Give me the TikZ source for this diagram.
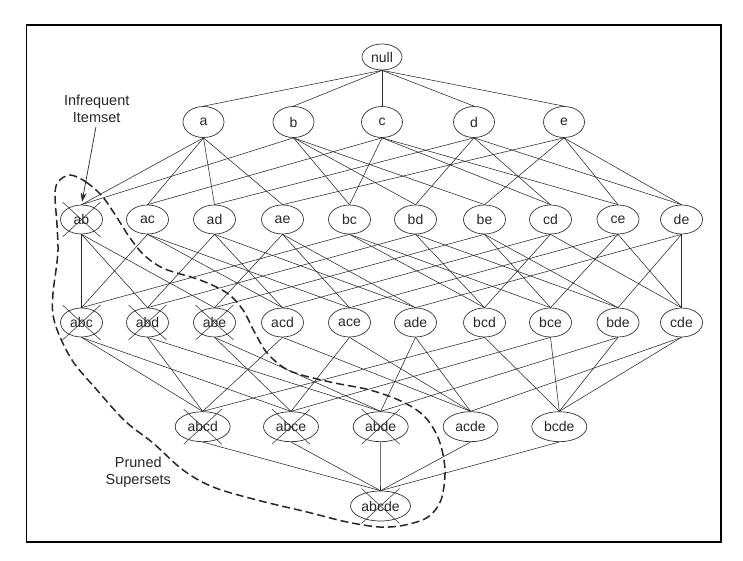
\documentclass[tikz,border=0pt]{standalone}
\usepackage{fontspec}
\setmainfont{Liberation Sans}
\usetikzlibrary{shapes.geometric,arrows.meta}
\begin{document}
\begin{tikzpicture}[x=1pt,y=-1pt,
  set/.style={ellipse,draw=black!80,line width=0.7pt,inner sep=0pt,text=black!85,font=\fontsize{14}{16}\selectfont},
  s0/.style={set,minimum width=40pt,minimum height=26pt},
  s1/.style={set,minimum width=41pt,minimum height=31pt},
  s2/.style={set,minimum width=42pt,minimum height=29pt},
  s4/.style={set,minimum width=55pt,minimum height=30pt},
  s5/.style={set,minimum width=60pt,minimum height=30pt},
  edge/.style={draw=black!85,line width=0.55pt},
  crossline/.style={draw=black!80,line width=0.55pt},
  note/.style={align=center,inner sep=0pt,anchor=north,text=black!85,font=\fontsize{14.5}{17}\selectfont},
  prune/.style={draw=black!85,line width=1.5pt,dash pattern=on 8pt off 4pt},
  pointer/.style={draw=black!85,line width=0.7pt,-{Stealth[length=9pt,width=6pt]}},
  frame/.style={draw=black,line width=1.6pt}
]
\useasboundingbox (0,0) rectangle (743,561);
\draw[frame] (26.3,25) rectangle (720.7,541.7);

% level 0
\node[s0] (n0) at (382,57) {null};
% level 1
\node[s1] (a) at (203.5,122) {a};
\node[s1] (b) at (293.5,122) {b};
\node[s1] (c) at (382,122) {c};
\node[s1] (d) at (474,122) {d};
\node[s1] (e) at (564,122) {e};
% level 2
\node[s2] (ab) at (81.5,219.5) {ab};
\node[s2] (ac) at (147.5,219.5) {ac};
\node[s2] (ad) at (214.5,219.5) {ad};
\node[s2] (ae) at (282.5,219.5) {ae};
\node[s2] (bc) at (349.5,219.5) {bc};
\node[s2] (bd) at (415.5,219.5) {bd};
\node[s2] (be) at (484.5,219.5) {be};
\node[s2] (cd) at (550.5,219.5) {cd};
\node[s2] (ce) at (618,219.5) {ce};
\node[s2] (de) at (681.5,219.5) {de};
% level 3
\node[s2] (abc) at (81.5,322.5) {abc};
\node[s2] (abd) at (147.5,322.5) {abd};
\node[s2] (abe) at (214.5,322.5) {abe};
\node[s2] (acd) at (282.5,322.5) {acd};
\node[s2] (ace) at (349.5,322.5) {ace};
\node[s2] (ade) at (415.5,322.5) {ade};
\node[s2] (bcd) at (484.5,322.5) {bcd};
\node[s2] (bce) at (550.5,322.5) {bce};
\node[s2] (bde) at (618,322.5) {bde};
\node[s2] (cde) at (681.5,322.5) {cde};
% level 4
\node[s4] (abcd) at (202.7,426.7) {abcd};
\node[s4] (abce) at (291,426.7) {abce};
\node[s4] (abde) at (380.7,426.7) {abde};
\node[s4] (acde) at (470.6,426.7) {acde};
\node[s4] (bcde) at (559.3,426.7) {bcde};
% level 5
\node[s5] (abcde) at (380.5,506) {abcde};

% lattice edges
\foreach \u/\v in {n0/a,n0/b,n0/c,n0/d,n0/e,
  a/ab,b/ab,a/ac,c/ac,a/ad,d/ad,a/ae,e/ae,b/bc,c/bc,b/bd,d/bd,b/be,e/be,c/cd,d/cd,c/ce,e/ce,d/de,e/de,
  ab/abc,ac/abc,bc/abc,ab/abd,ad/abd,bd/abd,ab/abe,ae/abe,be/abe,ac/acd,ad/acd,cd/acd,
  ac/ace,ae/ace,ce/ace,ad/ade,ae/ade,de/ade,bc/bcd,bd/bcd,cd/bcd,bc/bce,be/bce,ce/bce,
  bd/bde,be/bde,de/bde,cd/cde,ce/cde,de/cde,
  abc/abcd,abd/abcd,acd/abcd,bcd/abcd,abc/abce,abe/abce,ace/abce,bce/abce,
  abd/abde,abe/abde,ade/abde,bde/abde,acd/acde,ace/acde,ade/acde,cde/acde,
  bcd/bcde,bce/bcde,bde/bcde,cde/bcde,
  abcd/abcde,abce/abcde,abde/abcde,acde/abcde,bcde/abcde}
  \draw[edge] (\u.south) -- (\v.north);

% crosses on pruned itemsets
\foreach \n in {ab,abc,abd,abe,abcd,abce,abde,abcde} {
  \draw[crossline] ([shift={(-19,-17.5)}]\n.center) -- ([shift={(19,17.5)}]\n.center);
  \draw[crossline] ([shift={(19,-17.5)}]\n.center) -- ([shift={(-19,17.5)}]\n.center);
}

% annotations
\node[note] (infreq) at (96.7,95) {Infrequent\\Itemset};
\draw[pointer, shorten <=4pt, shorten >=3pt] (infreq.south) -- (ab.north);
\node[note] (pruned) at (138.3,457) {Pruned\\Supersets};

% pruned region boundary
\draw[prune] plot[smooth cycle, tension=0.55] coordinates {
  (70,175) (86,182) (102,196) (116,216) (130,238) (145,256) (165,269) (200,280)
  (227,293) (243,310) (255,333) (268,354) (290,371) (330,382) (370,390) (403,402)
  (425,417) (439,440) (445,470) (441,500) (428,517) (405,525) (380,527) (347,522)
  (307,512) (257,500) (213,487) (183,470) (153,443) (125,421) (97,390) (74,363)
  (60,337) (53,315) (53,293) (56,270) (58,250) (57,225) (55,195) (58,182)};
\end{tikzpicture}
\end{document}
